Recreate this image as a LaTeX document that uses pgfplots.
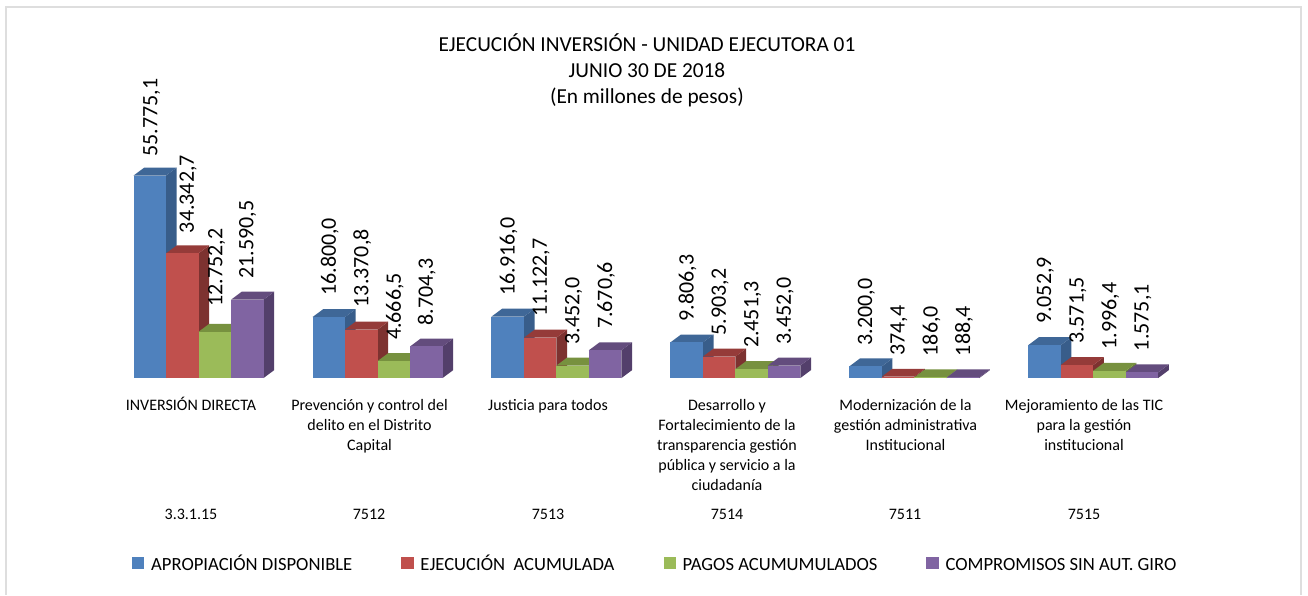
\documentclass[border=0pt]{standalone}
\usepackage{fontspec}
\setmainfont{Carlito}
\usepackage{pgfplots}
\pgfplotsset{compat=1.18}
\definecolor{cA}{HTML}{4F81BD}\definecolor{cAt}{HTML}{3F6797}\definecolor{cAs}{HTML}{385D8A}
\definecolor{cB}{HTML}{C0504D}\definecolor{cBt}{HTML}{953B39}\definecolor{cBs}{HTML}{7D3230}
\definecolor{cC}{HTML}{9BBB59}\definecolor{cCt}{HTML}{77913F}\definecolor{cCs}{HTML}{677E39}
\definecolor{cD}{HTML}{8064A2}\definecolor{cDt}{HTML}{634C7D}\definecolor{cDs}{HTML}{533F6B}
% left edge (px), value, colour, label xshift (px), label yshift (px)
\newcommand{\threeD}[5]{%
  \edef\xa{\fpeval{#1}}\edef\xb{\fpeval{#1+32.5}}\edef\xm{\fpeval{#1+16.25}}%
  \edef\xc{\fpeval{#1+10.7}}\edef\xd{\fpeval{#1+43.2}}%
  \edef\ya{\fpeval{#2}}\edef\yb{\fpeval{#2+2200}}%
  \edef\doit{%
    \noexpand\addplot[fill=#3s,draw=none,forget plot] coordinates {(\xb,0)(\xd,2200)(\xd,\yb)(\xb,\ya)} --cycle;
    \noexpand\addplot[fill=#3t,draw=none,forget plot] coordinates {(\xa,\ya)(\xc,\yb)(\xd,\yb)(\xb,\ya)} --cycle;
    \noexpand\addplot[ybar,bar width=24.375pt,bar shift=0pt,fill=#3,draw=none,forget plot,
      nodes near coords,
      nodes near coords style={xshift=#4*0.75pt,yshift=#5*0.75pt,rotate=90,anchor=west,inner sep=0pt,
        font=\noexpand\fontsize{16.5}{18}\noexpand\selectfont,text=black}]
      coordinates {(\xm,\ya)};
  }\doit}
\newcommand{\lgs}{\rule[-3pt]{0pt}{16pt}}
\begin{document}
\begin{tikzpicture}
\begin{axis}[
  at={(0,0)},anchor=south west,
  scale only axis,width=981pt,height=446.25pt,
  xmin=0,xmax=1308,
  ymin=-59740,ymax=104143,
  axis x line=middle,axis y line=none,
  axis line style={draw=none},
  major tick length=0pt,
  clip=false,
  /pgf/number format/assume math mode=true,
  /pgf/number format/.cd,fixed,fixed zerofill,precision=1,1000 sep={.},dec sep={,},/pgfplots/.cd,
  xtick={191,369.5,548,727,905.5,1084},
  xticklabels={\rule{0pt}{12pt}INVERSIÓN DIRECTA,
    {\rule{0pt}{12pt}Prevención y control del\\delito en el Distrito\\Capital},
    \rule{0pt}{12pt}Justicia para todos,
    {\rule{0pt}{12pt}Desarrollo y\\Fortalecimiento de la\\transparencia gestión\\pública y servicio a la\\ciudadanía},
    {\rule{0pt}{12pt}Modernización de la\\gestión administrativa\\Institucional},
    {\rule{0pt}{12pt}Mejoramiento de las TIC\\para la gestión\\institucional}},
  xticklabel style={align=center,anchor=north,yshift=-8.5pt,text=black,
    font=\fontsize{12}{15}\selectfont},
  title={EJECUCIÓN INVERSIÓN - UNIDAD EJECUTORA 01\\JUNIO 30 DE 2018\\(En millones de pesos)},
  title style={at={(axis description cs:0.4946,0.9375)},anchor=north,align=center,
    font=\fontsize{16}{19.5}\selectfont},
  legend columns=4,
  legend style={at={(axis description cs:0.1008,0.0548)},anchor=west,draw=none,fill=none,
    font=\fontsize{13.96}{15}\selectfont,inner sep=0pt,
    /tikz/every odd column/.append style={column sep=3.5pt},
    /tikz/every even column/.append style={column sep=34.8pt}},
  legend image code/.code={\fill[#1] (0cm,-4.2pt) rectangle (8.4pt,4.2pt);},
]
\addlegendimage{cA}\addlegendimage{cB}\addlegendimage{cC}\addlegendimage{cD}
\legend{\lgs APROPIACIÓN DISPONIBLE,\lgs EJECUCIÓN\ \ ACUMULADA,\lgs PAGOS ACUMUMULADOS,\lgs COMPROMISOS SIN AUT. GIRO}
% Group 1
\threeD{133.5}{55775.1}{cA}{2}{19}
\threeD{166}{34342.7}{cB}{6}{20}
\threeD{198.5}{12752.2}{cC}{2}{25}
\threeD{231}{21590.5}{cD}{0.5}{21}
% Group 2
\threeD{312.5}{16800.0}{cA}{1}{21}
\threeD{345}{13370.8}{cB}{1}{22}
\threeD{377.5}{4666.5}{cC}{1}{21}
\threeD{410}{8704.3}{cD}{0.5}{21}
% Group 3
\threeD{491.4}{16916.0}{cA}{1}{21}
\threeD{523.9}{11122.7}{cB}{1}{21}
\threeD{556.4}{3452.0}{cC}{1}{21}
\threeD{588.9}{7670.6}{cD}{1}{21}
% Group 4
\threeD{670.3}{9806.3}{cA}{1}{21}
\threeD{702.8}{5903.2}{cB}{1}{21}
\threeD{735.3}{2451.3}{cC}{1}{21}
\threeD{767.8}{3452.0}{cD}{1}{21}
% Group 5
\threeD{849.2}{3200.0}{cA}{1}{21}
\threeD{881.7}{374.4}{cB}{1}{21}
\threeD{914.2}{186.0}{cC}{1}{21}
\threeD{946.7}{188.4}{cD}{1}{21}
% Group 6
\threeD{1028.1}{9052.9}{cA}{1}{21}
\threeD{1060.6}{3571.5}{cB}{1}{21}
\threeD{1093.1}{1996.4}{cC}{1}{21}
\threeD{1125.6}{1575.1}{cD}{1}{21}
\path (rel axis cs:0,0) rectangle (rel axis cs:1,1);
\end{axis}
\begin{scope}[x=0.75pt,y=-0.75pt,shift={(0pt,446.25pt)}]
\draw[color=black!13,line width=1.5pt] (6,595) -- (6,7) -- (1301,7) -- (1301,595);
\foreach \x/\t in {191/3.3.1.15,369/7512,548/7513,727/7514,905/7511,1084/7515}
  \node[font=\fontsize{12}{15}\selectfont] at (\x,514) {\t};
\end{scope}
\end{tikzpicture}
\end{document}
